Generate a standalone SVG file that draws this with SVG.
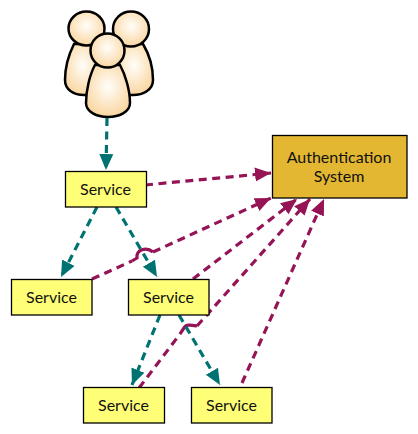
<svg xmlns="http://www.w3.org/2000/svg" width="418" height="434" viewBox="0 0 418 434">
<style>
.box{fill:#ffff77;stroke:#000;stroke-width:1.3}
.lbl{font-family:"Lato","Noto Sans",sans-serif;font-size:16px;fill:#111;text-anchor:middle}
.t{fill:none;stroke:#007272;stroke-width:3.2;stroke-dasharray:8 5.500}
.m{fill:none;stroke:#951455;stroke-width:3.2;stroke-dasharray:8 5.500}
.h{fill:none;stroke:#951455;stroke-width:3.2}
.u{fill:url(#peach);stroke:#000;stroke-width:2.500}
</style>
<defs>
<radialGradient id="peach" cx="0.5" cy="0.42" r="0.62"><stop offset="0" stop-color="#fffefa"/><stop offset="1" stop-color="#fad49c"/></radialGradient>
<marker id="at" markerUnits="userSpaceOnUse" markerWidth="17" markerHeight="16" viewBox="0 0 17 16" refX="16" refY="8" orient="auto"><path d="M0 1L16 8L0 15z" fill="#007272"/></marker>
<marker id="am" markerUnits="userSpaceOnUse" markerWidth="17" markerHeight="16" viewBox="0 0 17 16" refX="16" refY="8" orient="auto"><path d="M0 1L16 8L0 15z" fill="#951455"/></marker>
</defs>
<g id="users">
<path class="u" d="M74 44C69 54 65 68 65 80C65 90 74 95 84 95L100 95L100 44Z"/>
<path class="u" d="M143 44C149 54 153 68 153 80C153 90 143 95 133 95L115 95L115 44Z"/>
<ellipse class="u" cx="86.500" cy="28.500" rx="18" ry="17"/>
<ellipse class="u" cx="131" cy="29" rx="18" ry="17.500"/>
<path class="u" d="M95 65C90 74 86 90 86 103C86 112 97 117 108 117C119 117 130 112 130 103C130 90 125 74 120 65Z"/>
<circle class="u" cx="107.500" cy="50.500" r="17"/>
</g>
<g id="connectors">
<path class="m" marker-end="url(#am)" d="M145 185L271 173"/>
<path class="m" d="M92 279L132 261"/>
<path class="h" d="M132 261L137 258C136 250 146 246 153 252"/>
<path class="m" marker-end="url(#am)" d="M153 252L271 198"/>
<path class="m" marker-end="url(#am)" d="M193 279L297 199"/>
<path class="m" d="M139 388L180 334"/>
<path class="h" d="M180 334L184 328C186 324 191 325 197 326"/>
<path class="m" marker-end="url(#am)" d="M197 326L310 199"/>
<path class="m" marker-end="url(#am)" d="M242 383L324 199"/>
<path class="t" marker-end="url(#at)" d="M107 118L106 170"/>
<path class="t" marker-end="url(#at)" d="M97 207L61 277"/>
<path class="t" marker-end="url(#at)" d="M116 207L157 277"/>
<path class="t" marker-end="url(#at)" d="M160 315L132 385"/>
<path class="t" marker-end="url(#at)" d="M179 315L220 385"/>
</g>
<g id="auth"><rect x="272.500" y="135.500" width="134.500" height="62.500" fill="#e3b732" stroke="#000" stroke-width="1.300"/><text class="lbl" x="339" y="163">Authentication</text><text class="lbl" x="339" y="182">System</text></g>
<g id="service1"><rect class="box" x="65.500" y="171.500" width="81" height="35.500"/><text class="lbl" x="105.500" y="195">Service</text></g>
<g id="service2"><rect class="box" x="11.500" y="279.500" width="80.500" height="35.500"/><text class="lbl" x="51.500" y="303">Service</text></g>
<g id="service3"><rect class="box" x="128.500" y="279.500" width="80.500" height="35.500"/><text class="lbl" x="168.500" y="303">Service</text></g>
<g id="service4"><rect class="box" x="83.500" y="387.500" width="81" height="35.500"/><text class="lbl" x="123.500" y="411">Service</text></g>
<g id="service5"><rect class="box" x="191.500" y="387.500" width="80.500" height="35.500"/><text class="lbl" x="231.500" y="411">Service</text></g>
</svg>
